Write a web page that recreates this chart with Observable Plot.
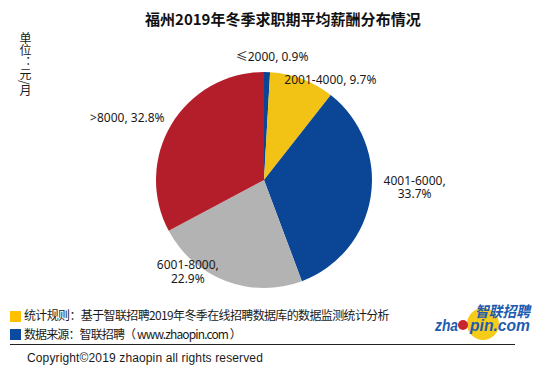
<!DOCTYPE html>
<html><head><meta charset="utf-8">
<script src="https://cdn.jsdelivr.net/npm/d3@7"></script>
<script src="https://cdn.jsdelivr.net/npm/@observablehq/plot@0.6"></script>
<style>
body{margin:0;background:#fff}
#c{position:relative;width:550px;height:374px;overflow:hidden;background:#fff;font-family:"Noto Sans","Noto Sans CJK SC",sans-serif;color:#1a1a1a}
#c > *{position:absolute}
#title{left:145px;top:19px;white-space:nowrap;font-family:"Noto Sans CJK SC",sans-serif;font-weight:700;font-size:17px;line-height:1;color:#111;transform:translateY(-50%)}
#unit{left:18px;top:32px;writing-mode:vertical-rl;text-orientation:mixed;font-family:"Noto Sans CJK SC",sans-serif;font-size:12px;line-height:15px}
#chart{left:0;top:0}
.sq{width:11px;height:11px}
.note{font-family:"Noto Sans CJK SC",sans-serif;font-size:12px;line-height:16px;white-space:nowrap}
#rule{left:10px;top:344px;width:505px;height:0;border-top:1.5px solid #222}
#copy{left:27px;top:350px;font-family:"Liberation Sans",Arial,sans-serif;font-size:12px;line-height:16px;white-space:nowrap}
#logo{left:425px;top:298px}
</style></head><body>
<div id="c">
  <div id="chart"></div>
  <div id="title"></div>
  <div id="unit"></div>
  <div class="sq" style="left:10px;top:311px;background:#FFC000"></div>
  <div class="note" id="n1" style="left:24px;top:307px"></div>
  <div class="sq" style="left:10px;top:329px;background:#0A4AA0"></div>
  <div class="note" id="n2" style="left:24px;top:326px"></div>
  <div id="rule"></div>
  <div id="copy"></div>
  <svg id="logo" width="120" height="50"></svg>
</div>
<script>
// ---- data ----
const titleText = "福州2019年冬季求职期平均薪酬分布情况";
const unitText = "单位：元/月";
const categories = ["≤2000", "2001-4000", "4001-6000", "6001-8000", ">8000"];
const shares = [0.9, 9.7, 33.7, 22.9, 32.8];
const notes = ["统计规则：基于智联招聘2019年冬季在线招聘数据库的数据监测统计分析", "数据来源：智联招聘（ www.zhaopin.com ）"];
const copyrightText = "Copyright©2019 zhaopin all rights reserved";

// ---- styles / layout ----
const sliceColors = ["#0B4596", "#F2C314", "#0B4596", "#B3B3B3", "#B41E2A"];
// label anchor in pie-radius units (x right, y down) and whether to wrap
const labelLayout = [
  {x: 0.07, y: -1.15, wrap: false},
  {x: 0.61, y: -0.93, wrap: false},
  {x: 1.39, y: 0.06, wrap: true},
  {x: -0.71, y: 0.84, wrap: true},
  {x: -1.27, y: -0.58, wrap: false}
];

const el = id => document.getElementById(id);
el("title").textContent = titleText;
el("unit").textContent = unitText;
el("n1").textContent = notes[0];
el("n2").textContent = notes[1];
el("copy").textContent = copyrightText;

// fit text widths to the reference spans
function fitSpacing(node, target) {
  node.style.letterSpacing = "0px";
  const w = node.getBoundingClientRect().width;
  const n = node.textContent.length;
  node.style.letterSpacing = ((target - w) / n).toFixed(3) + "px";
}
function fitSize(node, target) {
  const fs = parseFloat(getComputedStyle(node).fontSize);
  const w = node.getBoundingClientRect().width;
  node.style.fontSize = (fs * target / w).toFixed(2) + "px";
}
fitSize(el("title"), 276);
fitSpacing(el("n1"), 365);
fitSpacing(el("n2"), 217);
fitSpacing(el("copy"), 236);

const rows = categories.map((c, i) => ({category: c, share: shares[i]}));
const color = d3.scaleOrdinal(categories, sliceColors);
const labels = rows.map((d, i) => ({
  x: labelLayout[i].x,
  y: labelLayout[i].y,
  text: `${d.category},${labelLayout[i].wrap ? "\n" : " "}${d.share}%`
}));

function pieMark(index, scales) {
  const cx = scales.x(0), cy = scales.y(0), r = scales.x(1) - scales.x(0);
  const arcs = d3.pie().sort(null).value(d => d.share)(rows);
  const arc = d3.arc().innerRadius(0).outerRadius(r);
  const g = d3.create("svg:g").attr("transform", `translate(${cx},${cy})`);
  g.selectAll("path").data(arcs).join("path")
    .attr("d", arc)
    .attr("fill", d => color(d.data.category));
  return g.node();
}

const plot = Plot.plot({
  width: 550,
  height: 300,
  margin: 0,
  x: {domain: [-1, 1], range: [156, 372], axis: null},
  y: {domain: [-1, 1], range: [72, 288], axis: null},
  style: {background: "transparent", overflow: "visible"},
  marks: [
    pieMark,
    Plot.text(labels, {
      x: "x", y: "y", text: "text",
      fontSize: 12, lineHeight: 1.15, fill: "#1a1a1a",
      fontFamily: "'Noto Sans','Noto Sans CJK SC',sans-serif"
    })
  ]
});
el("chart").appendChild(plot);

// logo
const logo = d3.select("#logo");
logo.append("circle").attr("cx", 58).attr("cy", 26).attr("r", 16).attr("fill", "#F7CB1A");
logo.append("text").attr("x", 50).attr("y", 19).attr("font-family", "'Noto Sans CJK SC',sans-serif")
  .attr("font-weight", 700).attr("font-style", "italic").attr("font-size", 15).attr("fill", "#1E5CB0")
  .attr("textLength", 55).attr("lengthAdjust", "spacingAndGlyphs").text("智联招聘");
logo.append("text").attr("x", 10).attr("y", 33).attr("font-family", "'Liberation Sans',Arial,sans-serif")
  .attr("font-weight", 700).attr("font-style", "italic").attr("font-size", 17).attr("fill", "#1E5CB0")
  .attr("textLength", 23).attr("lengthAdjust", "spacingAndGlyphs").text("zha");
logo.append("circle").attr("cx", 38).attr("cy", 27).attr("r", 5).attr("fill", "#C8262C");
logo.append("text").attr("x", 45).attr("y", 33).attr("font-family", "'Liberation Sans',Arial,sans-serif")
  .attr("font-weight", 700).attr("font-style", "italic").attr("font-size", 17).attr("fill", "#1E5CB0")
  .attr("textLength", 60).attr("lengthAdjust", "spacingAndGlyphs").text("pin.com");
</script>
</body></html>
